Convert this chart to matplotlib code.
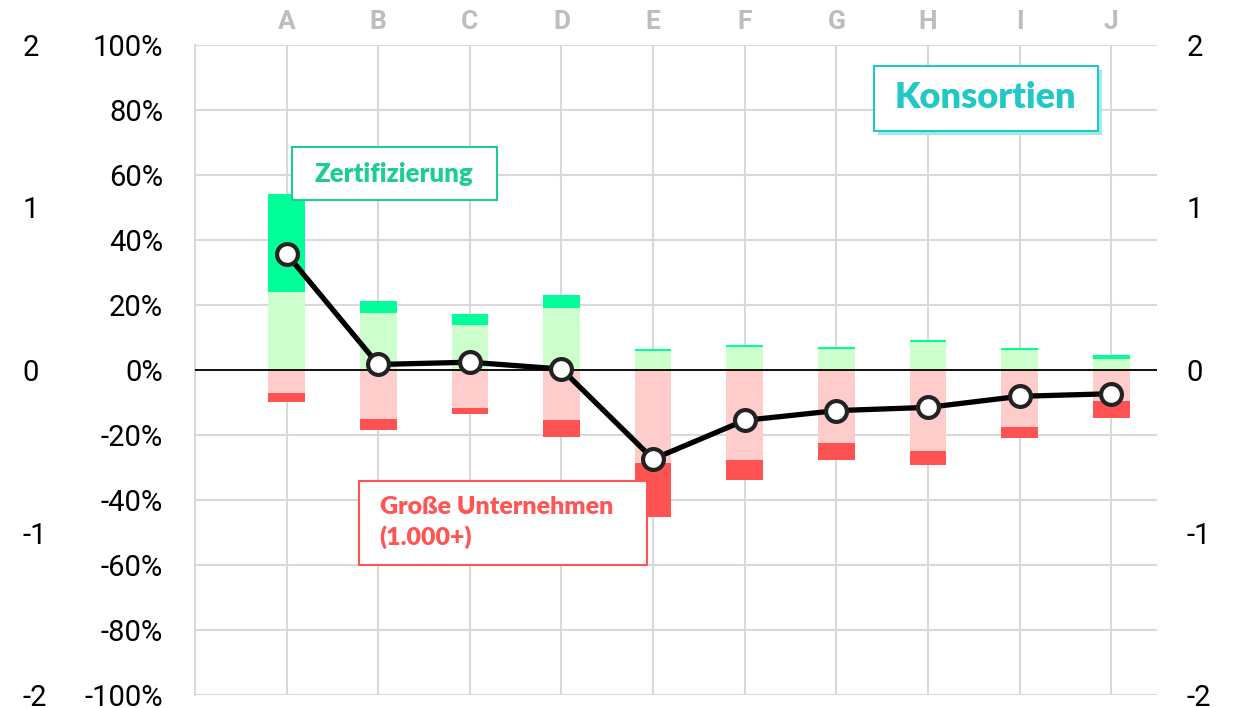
import numpy as np
import matplotlib
matplotlib.use("Agg")
import matplotlib.pyplot as plt
import matplotlib.patches as patches

plt.rcParams['font.family'] = ['Roboto', 'DejaVu Sans']
plt.rcParams['axes.unicode_minus'] = False

# --- data (percent) ---
categories = ["A", "B", "C", "D", "E", "F", "G", "H", "I", "J"]
pos_base = [23.9, 17.6, 13.8, 19.2, 5.7, 7.1, 6.4, 8.5, 6.2, 3.5]
pos_total = [54.2, 21.3, 17.1, 23.1, 6.5, 7.8, 7.2, 9.3, 6.9, 4.5]
neg_base = [-7.0, -15.1, -11.6, -15.4, -28.6, -27.8, -22.5, -24.9, -17.6, -9.4]
neg_total = [-9.9, -18.5, -13.6, -20.7, -45.3, -33.9, -27.8, -29.1, -20.9, -14.8]
line_vals = [35.7, 1.7, 2.4, 0.3, -27.4, -15.5, -12.5, -11.5, -8.1, -7.3]

LIGHT_GREEN = "#ccffcc"
DARK_GREEN = "#00ff99"
LIGHT_RED = "#ffcccc"
DARK_RED = "#ff5252"
GRID = "#d9d9d9"

x = np.arange(len(categories))
pb, pt = np.array(pos_base), np.array(pos_total)
nb, nt = np.array(neg_base), np.array(neg_total)

fig = plt.figure(figsize=(12.33, 7.08), dpi=100)
ax = fig.add_axes([195/1233, 13/708, (1157-195)/1233, (695-45)/708])

w = 0.4
ax.bar(x, pb, w, color=LIGHT_GREEN, zorder=2)
ax.bar(x, pt - pb, w, bottom=pb, color=DARK_GREEN, zorder=2)
ax.bar(x, nb, w, color=LIGHT_RED, zorder=2)
ax.bar(x, nt - nb, w, bottom=nb, color=DARK_RED, zorder=2)

ax.axhline(0, color="black", lw=1.3, zorder=3)
ax.plot(x, line_vals, color="black", lw=3.8, zorder=4, solid_capstyle='round')
ax.plot(x, line_vals, 'o', ms=15, mfc="white", mec="#222222", mew=3, zorder=5)

ax.set_xlim(-1, 9.5)
ax.set_ylim(-100, 100)
ax.set_yticks(np.arange(-100, 101, 20))
ax.set_yticklabels([f"{v}%" for v in range(-100, 101, 20)])
ax.set_xticks(x)
ax.set_xticklabels(categories)
ax.xaxis.tick_top()
ax.tick_params(axis='x', length=0, pad=8, labelsize=19, labelcolor="#bdbdbd")
for lab in ax.get_xticklabels():
    lab.set_fontweight('bold')
ax.tick_params(axis='y', length=0, pad=23, labelsize=21)
ax.grid(True, color=GRID, lw=1.5, zorder=0)
ax.set_axisbelow(True)
for s in ["top", "right", "bottom"]:
    ax.spines[s].set_visible(False)
ax.spines["left"].set_color(GRID)
ax.spines["left"].set_linewidth(1.5)

# right axis
axr = ax.twinx()
axr.set_ylim(-2, 2)
axr.set_yticks([-2, -1, 0, 1, 2])
axr.tick_params(axis='y', length=0, pad=21, labelsize=21)
for s in axr.spines.values():
    s.set_visible(False)

# outer left axis
axl = ax.twinx()
axl.set_ylim(-2, 2)
axl.set_yticks([-2, -1, 0, 1, 2])
axl.yaxis.set_ticks_position('left')
axl.yaxis.set_label_position('left')
axl.tick_params(axis='y', length=0, pad=124, labelsize=21)
for lab in axl.get_yticklabels():
    lab.set_horizontalalignment('left')
for s in axl.spines.values():
    s.set_visible(False)

ann_font = ['Lato', 'DejaVu Sans']

def box(ax, x0, y0, x1, y1, color, shadow=None):
    if shadow:
        ax.add_patch(patches.Rectangle((x0 + 0.045, y0 - 1.3), x1 - x0, y1 - y0,
                                       facecolor=shadow, edgecolor='none', zorder=6))
    ax.add_patch(patches.Rectangle((x0, y0), x1 - x0, y1 - y0, facecolor="white",
                                   edgecolor=color, lw=1.5, zorder=7))

def px2x(p):
    return (p - 287) / 91.6

def px2y(p):
    return (370.5 - p) / 3.25

# Zertifizierung
c = "#1dcf8f"
box(ax, px2x(292), px2y(200), px2x(497), px2y(148), c)
ax.text(px2x(394.5), px2y(174), "Zertifizierung", color=c, fontsize=18.5, fontweight='heavy',
        family=ann_font, ha='center', va='center', zorder=8)

# Konsortien
c = "#22c8c8"
box(ax, px2x(874), px2y(131), px2x(1098), px2y(66), c, shadow="#a6e9e9")
ax.text(px2x(986), px2y(98.5), "Konsortien", color=c, fontsize=26, fontweight='heavy',
        family=ann_font, ha='center', va='center', zorder=8)

# Große Unternehmen
c = "#ff5555"
box(ax, px2x(359), px2y(565), px2x(647), px2y(481), c)
ax.text(px2x(380), px2y(523), "Große Unternehmen\n(1.000+)", color=c, fontsize=18,
        fontweight='heavy', family=ann_font, ha='left', va='center', linespacing=1.35, zorder=8)

fig.savefig("out.png", dpi=100)
